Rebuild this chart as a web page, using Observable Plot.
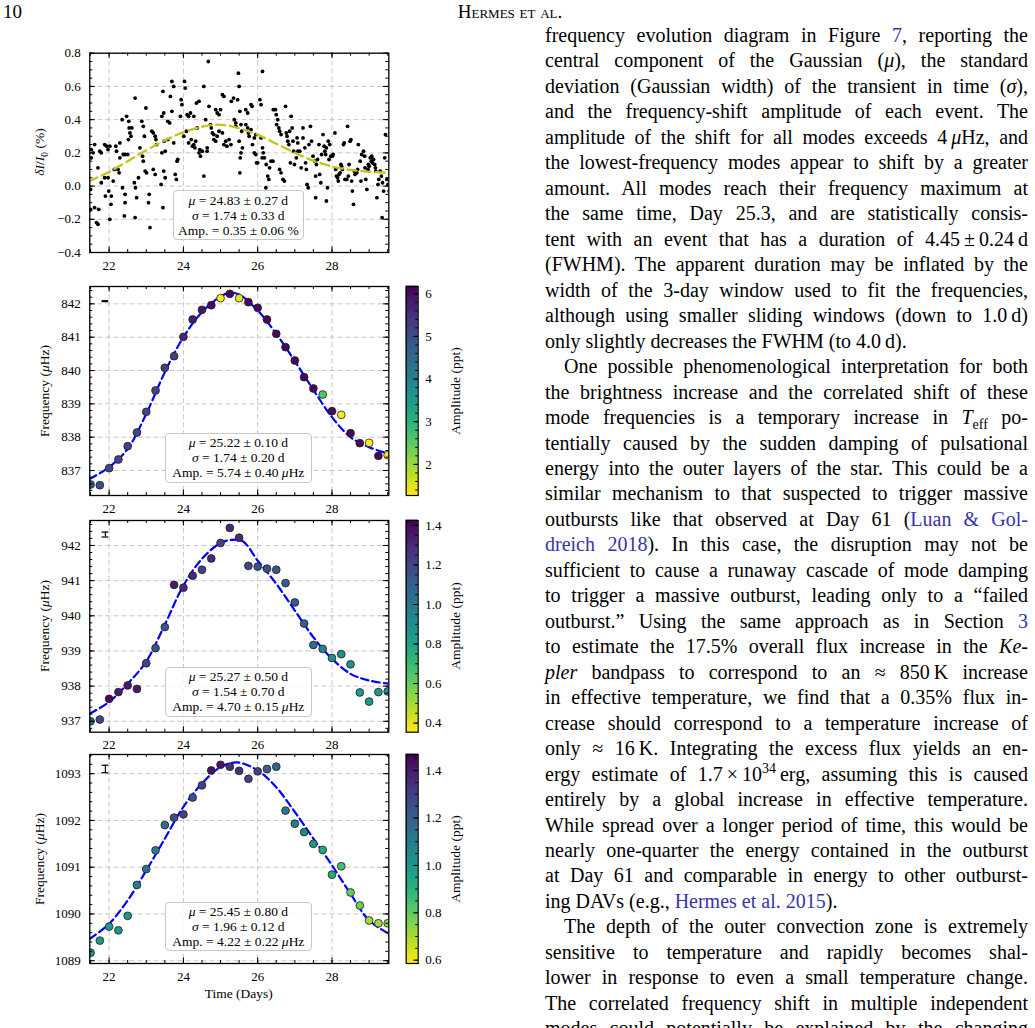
<!DOCTYPE html>
<html><head><meta charset="utf-8">
<script src="https://cdn.jsdelivr.net/npm/d3@7"></script>
<script src="https://cdn.jsdelivr.net/npm/@observablehq/plot@0.6"></script>
<style>
html,body{margin:0;padding:0;background:#fff;}
#page{position:relative;width:1035px;height:1028px;overflow:hidden;background:#fff;font-family:"Liberation Serif","Times New Roman",serif;color:#000;}
.abs{position:absolute;}
.box{position:absolute;border:1px solid #c8c8c8;border-radius:4px;background:rgba(255,255,255,0.8);font-size:13.5px;line-height:14.8px;text-align:center;box-sizing:border-box;white-space:nowrap;}
.rot{position:absolute;font-size:13.5px;white-space:nowrap;transform:translate(-50%,-50%) rotate(-90deg);}
#text{position:absolute;left:545px;top:23px;width:483px;font-size:20px;line-height:25.47px;}
#text div{text-align:justify;text-align-last:justify;}
#text div.end{text-align-last:left;}
#text div.ind{text-indent:19px;}
.ref{color:#3535a8;}
sub,sup{line-height:0;font-size:0.7em;}
</style></head>
<body><div id="page"></div>
<script>
// ---------------- DATA ----------------
// Top panel: relative flux (percent) vs time (days)
const fluxPoints = [
[21.52,0.22],[21.52,0.17],[21.61,0.25],[21.57,0.20],[21.50,-0.02],[21.50,-0.14],[21.61,-0.13],[21.72,-0.14],[21.66,-0.22],[21.70,-0.23],[21.70,0.11],[21.75,0.21],[21.79,0.20],[21.88,0.25],[21.93,0.24],[21.97,0.22],[22.02,0.24],[21.79,0.02],[21.90,-0.06],[21.99,-0.03],[22.06,-0.06],[22.05,-0.11],[22.02,-0.20],[21.88,0.05],[21.97,0.05],[22.11,0.03],[22.14,0.10],[22.20,0.21],[22.18,0.24],[22.29,0.26],[22.24,0.10],[22.27,0.08],[22.29,0.17],[22.35,0.40],[22.38,0.19],[22.43,0.19],[22.47,0.42],[22.50,0.19],[22.36,-0.01],[22.43,-0.05],[22.43,-0.10],[22.41,-0.18],[22.53,0.39],[22.54,0.35],[22.61,0.35],[22.56,0.32],[22.52,0.28],[22.59,0.30],[22.68,0.02],[22.71,-0.01],[22.74,-0.07],[22.79,0.05],[22.70,-0.19],[22.70,0.53],[22.83,0.23],[22.88,0.39],[22.92,0.36],[22.95,0.30],[22.90,0.18],[22.92,0.15],[22.99,0.47],[22.97,0.09],[23.01,0.08],[23.08,-0.05],[23.06,-0.10],[23.10,-0.25],[23.15,0.33],[23.19,0.32],[23.24,0.30],[23.26,0.28],[23.19,0.10],[23.24,0.07],[23.28,0.25],[23.40,0.01],
[23.45,0.57],[23.47,0.44],[23.42,0.42],[23.48,0.27],[23.42,0.20],[23.51,0.21],[23.58,0.39],[23.63,0.38],[23.58,0.28],[23.65,0.54],[23.69,0.63],[23.74,0.60],[23.69,0.45],[23.74,0.26],[23.78,0.07],[23.81,0.04],[23.83,0.15],[23.85,0.16],[23.47,0.09],[23.51,0.05],[23.45,-0.13],[23.92,0.42],[23.94,0.52],[23.96,0.49],[24.01,0.30],[24.03,0.63],[24.05,0.59],[24.08,0.33],[24.10,0.43],[24.14,0.42],[24.19,0.44],[24.14,0.26],[24.21,0.28],[24.24,0.24],[24.28,0.25],[24.31,0.23],[24.33,0.27],[24.28,0.42],[24.35,0.50],[24.42,0.51],[24.37,0.35],[24.42,0.20],[24.46,0.18],[24.44,0.22],[24.51,0.21],[24.55,0.06],[24.55,0.60],[24.60,0.40],[24.64,0.23],[24.64,0.21],[24.67,0.75],[24.69,0.48],[24.73,0.37],[24.75,0.35],[24.78,0.32],[24.82,0.31],[24.82,0.28],[24.87,0.27],[24.91,0.30],[24.87,0.46],[24.91,0.44],[24.96,0.43],[25.00,0.46],[24.96,0.33],[25.05,0.55],[25.09,0.54],[25.05,0.32],[25.09,0.25],[25.14,0.27],[25.17,0.24],[25.23,0.28],[25.28,0.25],[25.29,0.51],[25.35,0.53],[25.37,0.40],[25.41,0.38],[25.41,0.36],[25.53,0.17],
[25.48,0.68],[25.50,0.60],[25.46,0.52],[25.52,0.45],[25.55,0.37],[25.57,0.33],[25.50,0.27],[25.59,0.23],[25.55,0.20],[25.52,0.08],[25.68,0.46],[25.73,0.44],[25.68,0.37],[25.73,0.35],[25.75,0.32],[25.77,0.30],[25.82,0.49],[25.85,0.48],[25.82,0.34],[25.86,0.25],[25.91,0.29],[25.91,0.20],[25.95,0.19],[25.97,0.14],[25.95,0.31],[26.00,0.14],[26.06,0.52],[26.09,0.49],[26.13,0.69],[26.09,0.29],[26.13,0.23],[26.15,0.20],[26.12,0.17],[26.18,0.17],[26.23,0.13],[26.27,0.06],[26.30,0.04],[26.32,0.11],[26.36,0.15],[26.41,0.15],[26.42,0.46],[26.48,0.46],[26.50,0.43],[26.54,0.40],[26.51,0.37],[26.57,0.35],[26.59,0.33],[26.63,0.31],[26.59,0.10],[26.63,0.08],[26.68,0.04],[26.72,0.03],[26.75,0.48],[26.77,0.32],[26.79,0.30],[26.81,0.27],[26.84,0.25],[26.86,0.33],[26.88,0.14],[26.90,0.42],[26.93,0.35],[26.95,0.27],[26.97,0.21],[26.99,0.13],[27.04,0.17],[27.06,0.29],[27.08,0.26],[27.08,0.21],[27.13,0.21],[27.17,0.11],[27.22,0.29],[27.22,0.35],[27.27,0.23],[27.29,0.14],[27.31,0.10],[27.33,0.01],[27.36,-0.01],[27.38,0.25],[27.42,0.36],[27.45,0.27],[27.56,-0.07],[26.22,-0.01],[27.85,-0.09],
[27.49,0.18],[27.54,0.15],[27.56,0.06],[27.58,0.13],[27.61,0.16],[27.65,0.25],[27.67,0.07],[27.70,0.02],[27.72,0.19],[27.76,0.31],[27.79,0.24],[27.81,0.21],[27.83,0.19],[27.85,0.23],[27.88,-0.01],[27.90,0.27],[27.92,0.16],[27.94,0.25],[27.97,0.18],[28.01,0.18],[28.03,0.19],[28.08,0.32],[28.10,0.10],[28.12,0.06],[28.15,0.05],[28.17,0.03],[28.19,0.07],[28.22,0.08],[28.24,0.13],[28.26,0.12],[28.28,0.10],[28.31,0.25],[28.33,0.26],[28.35,0.04],[28.40,0.04],[28.42,0.36],[28.44,0.06],[28.46,0.13],[28.49,0.27],[28.51,0.28],[28.53,0.03],[28.55,-0.03],[28.58,-0.11],[28.60,0.09],[28.62,0.07],[28.67,0.08],[28.69,0.10],[28.71,0.25],[28.76,0.15],[28.78,0.03],[28.80,0.19],[28.85,0.21],[28.88,0.18],[28.89,0.11],[28.91,0.04],[28.94,-0.02],[28.97,0.10],[28.98,0.13],[29.00,0.12],[29.03,0.17],[29.06,0.15],[29.07,0.18],[29.09,0.14],[29.12,0.16],[29.15,0.13],[29.17,0.11],[29.18,0.09],[29.21,-0.07],[29.24,0.01],[29.26,0.04],[29.30,0.09],[29.33,0.06],[29.35,-0.19],[29.36,0.02],[29.39,-0.03],[29.42,0.17],[29.44,0.31],[29.48,0.04],[29.51,0.01],[29.54,-0.03]
];
const fluxFitDays = [21.46,22.0,22.5,23.0,23.5,24.0,24.5,24.9,25.3,25.75,26.0,26.5,27.0,27.5,28.0,28.5,29.0,29.53];
const fluxFitVals = [0.03,0.085,0.15,0.215,0.275,0.325,0.357,0.37,0.36,0.33,0.31,0.255,0.2,0.152,0.118,0.097,0.086,0.08];

// Mode panels: time of each window center (days)
const modeDays = [21.5,21.75,22.0,22.25,22.5,22.75,23.0,23.25,23.5,23.75,24.0,24.25,24.5,24.75,25.0,25.25,25.5,25.75,26.0,26.25,26.5,26.75,27.0,27.25,27.5,27.75,28.0,28.25,28.5,28.75,29.0,29.25,29.5];

const freq842 = [836.58,836.56,837.07,837.33,837.73,838.14,838.76,839.40,840.08,840.43,841.01,841.53,841.82,841.96,842.17,842.30,842.17,842.05,841.88,841.53,841.10,840.70,840.30,839.80,839.46,839.28,838.78,838.67,838.12,837.82,837.83,837.44,837.46];
const amp842 = [4.9,5.0,5.1,5.1,5.2,5.1,5.2,5.2,5.3,5.3,5.7,5.8,5.9,6.05,1.3,6.05,1.4,6.05,6.05,6.05,6.05,6.05,6.05,6.05,6.05,2.6,6.05,1.3,6.05,6.05,1.3,6.05,1.3];
const fit842Days = [21.48,22.0,22.5,23.0,23.5,24.0,24.5,25.0,25.25,25.5,26.0,26.5,27.0,27.5,28.0,28.5,29.0,29.53];
const fit842Freq = [836.75,837.1,837.65,838.7,839.95,841.0,841.75,842.22,842.33,842.28,841.8,841.1,840.28,839.42,838.6,838.0,837.7,837.5];

const freq942 = [937.00,937.05,937.64,937.83,938.02,937.92,938.65,939.08,939.68,940.88,940.80,941.14,941.31,941.63,942.07,942.50,942.22,941.42,941.40,941.34,941.31,940.93,940.38,939.78,939.17,939.06,938.80,938.91,938.62,937.82,937.56,937.83,937.85];
const amp942 = [1.05,1.2,1.4,1.35,1.35,1.35,1.22,1.15,1.15,1.35,1.3,1.3,1.22,1.3,1.22,1.3,1.3,1.2,1.15,1.15,1.15,1.12,1.12,1.1,1.05,0.95,0.9,0.9,0.9,0.85,0.85,0.87,0.87];
const fit942Days = [21.48,22.0,22.5,23.0,23.5,24.0,24.5,25.0,25.3,25.6,26.0,26.5,27.0,27.5,28.0,28.5,29.0,29.53];
const fit942Freq = [937.22,937.55,938.07,938.7,939.75,940.86,941.62,942.07,942.16,942.12,941.57,940.91,940.15,939.39,938.78,938.35,938.16,938.07];

const freq1093 = [1089.17,1089.43,1089.73,1089.65,1089.96,1090.62,1090.96,1091.36,1091.90,1092.06,1092.13,1092.49,1092.75,1093.07,1093.19,1093.15,1093.06,1092.89,1093.05,1093.10,1093.15,1092.21,1091.93,1091.75,1091.50,1091.37,1090.84,1091.02,1090.46,1090.18,1089.86,1089.80,1089.80];
const amp1093 = [1.0,1.0,1.0,1.0,1.0,1.1,1.15,1.1,1.15,1.25,1.3,1.25,1.3,1.42,1.42,1.35,1.35,1.3,1.3,1.2,1.2,1.12,1.1,1.08,1.0,0.95,0.93,0.85,0.8,0.78,0.72,0.72,0.74];
const fit1093Days = [21.48,22.0,22.5,23.0,23.5,24.0,24.5,25.0,25.45,26.0,26.5,27.0,27.5,28.0,28.5,29.0,29.53];
const fit1093Freq = [1089.47,1089.79,1090.29,1090.93,1091.61,1092.29,1092.79,1093.14,1093.24,1093.07,1092.71,1092.18,1091.61,1091.04,1090.43,1089.86,1089.58];

// typical error bars (day, low, high)
const err842 = [{day:21.9, lo:842.065, hi:842.095}];
const err942 = [{day:21.9, lo:942.24, hi:942.38}];
const err1093 = [{day:21.9, lo:1093.02, hi:1093.18}];

// tick values
const xMajor = [22,24,26,28];

// ---------------- LAYOUT HELPERS ----------------
const page = document.getElementById("page");
const FONT = "Liberation Serif, Times New Roman, serif";
const ML = 89.3, MR = 11.7, W = 400;
const X_DOMAIN = [21.48, 29.53];
const xMinor = d3.range(43, 60).map(i => i / 2);

function place(node, left, top) {
  const d = document.createElement("div");
  d.className = "abs"; d.style.left = left + "px"; d.style.top = top + "px";
  d.appendChild(node); page.appendChild(d);
}
function steps(a, b, s) { const n = Math.round((b - a) / s); return d3.range(n + 1).map(i => +(a + i * s).toFixed(4)); }

function panel({top, height, mt, mb, yDomain, yMajor, yMinor, yFormat, color, marks}) {
  const iw = W - ML - MR, ih = height - mt - mb;
  const maj = 5.5, mnr = 3;
  const gridStyle = {stroke: "#b0b0b0", strokeOpacity: 1, strokeWidth: 0.7, strokeDasharray: "5,3"};
  const svg = Plot.plot({
    width: W, height, marginLeft: ML, marginRight: MR, marginTop: mt, marginBottom: mb,
    x: {domain: X_DOMAIN}, y: {domain: yDomain}, color,
    style: {background: "transparent", fontFamily: FONT, fontSize: "13px", color: "#000", overflow: "visible"},
    marks: [
      Plot.gridX(xMajor, gridStyle),
      Plot.gridY(yMajor, gridStyle),
      ...marks,
      Plot.tickX(xMajor, {x: d => d, insetTop: ih - maj}),
      Plot.tickX(xMajor, {x: d => d, insetBottom: ih - maj}),
      Plot.tickX(xMinor, {x: d => d, insetTop: ih - mnr}),
      Plot.tickX(xMinor, {x: d => d, insetBottom: ih - mnr}),
      Plot.tickY(yMajor, {y: d => d, insetRight: iw - maj}),
      Plot.tickY(yMajor, {y: d => d, insetLeft: iw - maj}),
      Plot.tickY(yMinor, {y: d => d, insetRight: iw - mnr}),
      Plot.tickY(yMinor, {y: d => d, insetLeft: iw - mnr}),
      Plot.frame({stroke: "#000", strokeWidth: 1.3}),
      Plot.axisX(xMajor, {tickSize: 0, tickPadding: 8, tickFormat: d => String(d), label: null}),
      Plot.axisY(yMajor, {tickSize: 0, tickPadding: 9, tickFormat: yFormat, label: null})
    ]
  });
  place(svg, 0, top);
}

function colorbar({top, height, mt, mb, lo, hi, major, minor, fmt}) {
  const n = 200, bw = 12;
  const bands = d3.range(n).map(i => ({y1: lo + (hi - lo) * i / n, y2: lo + (hi - lo) * (i + 1) / n, v: lo + (hi - lo) * (i + 0.5) / n}));
  const svg = Plot.plot({
    width: 60, height, marginLeft: 10.7, marginRight: 60 - 10.7 - bw, marginTop: mt, marginBottom: mb,
    y: {domain: [lo, hi]},
    color: {type: "linear", scheme: "viridis", reverse: true, domain: [lo, hi]},
    style: {background: "transparent", fontFamily: FONT, fontSize: "13px", color: "#000", overflow: "visible"},
    marks: [
      Plot.rect(bands, {y1: "y1", y2: "y2", fill: "v", insetTop: -0.4, insetBottom: -0.4}),
      Plot.tickY(major, {y: d => d, insetLeft: bw - 4.5}),
      Plot.tickY(minor, {y: d => d, insetLeft: bw - 2.5}),
      Plot.frame({stroke: "#000", strokeWidth: 1.2}),
      Plot.axisY(major, {anchor: "right", tickSize: 0, tickPadding: 7, tickFormat: fmt, label: null})
    ]
  });
  place(svg, 395, top);
}

function modeMarks(days, freqs, amps, fitDays, fitFreqs, err) {
  const pts = days.map((d, i) => ({day: d, f: freqs[i], a: amps[i]}));
  const fit = fitDays.map((d, i) => ({day: d, f: fitFreqs[i]}));
  const cap = 0.09;
  return [
    Plot.line(fit, {x: "day", y: "f", stroke: "#0000ff", strokeWidth: 2.2, strokeDasharray: "7.5,4", curve: "catmull-rom", clip: true}),
    Plot.dot(pts, {x: "day", y: "f", fill: "a", r: 3.9, stroke: "#1e1e1e", strokeWidth: 0.8, clip: true}),
    Plot.ruleX(err, {x: "day", y1: "lo", y2: "hi", stroke: "#000", strokeWidth: 1.2}),
    Plot.ruleY(err, {y: "lo", x1: d => d.day - cap, x2: d => d.day + cap, stroke: "#000", strokeWidth: 1.2}),
    Plot.ruleY(err, {y: "hi", x1: d => d.day - cap, x2: d => d.day + cap, stroke: "#000", strokeWidth: 1.2})
  ];
}

function box(left, top, w, h, padTop, lines) {
  const d = document.createElement("div");
  d.className = "box";
  Object.assign(d.style, {left: left + "px", top: top + "px", width: w + "px", height: h + "px", paddingTop: padTop + "px"});
  d.innerHTML = lines.join("<br>");
  page.appendChild(d);
}
function rotLabel(x, y, html) {
  const d = document.createElement("div");
  d.className = "rot"; d.style.left = x + "px"; d.style.top = y + "px"; d.innerHTML = html;
  page.appendChild(d);
}
function label(x, y, html, size, extra) {
  const d = document.createElement("div");
  d.className = "abs"; d.style.left = x + "px"; d.style.top = y + "px";
  d.style.fontSize = size + "px"; d.style.whiteSpace = "nowrap"; d.innerHTML = html;
  if (extra) Object.assign(d.style, extra);
  page.appendChild(d);
}

const fmt1 = d => d.toFixed(1).replace("-", "\u2212");

// ---------------- PANEL 1 ----------------
panel({
  top: 40, height: 240, mt: 12.7, mb: 28,
  yDomain: [-0.4, 0.8], yMajor: steps(-0.4, 0.8, 0.2), yMinor: steps(-0.4, 0.8, 0.05), yFormat: fmt1,
  marks: [
    Plot.dot(fluxPoints, {x: d => d[0], y: d => d[1], r: 1.9, fill: "#000", clip: true}),
    Plot.line(fluxFitDays.map((d, i) => ({day: d, v: fluxFitVals[i]})), {x: "day", y: "v", stroke: "#c3c31a", strokeWidth: 2.3, strokeDasharray: "9,5", curve: "catmull-rom", clip: true})
  ]
});
rotLabel(40, 152, "<i>δI</i>/<i>I</i><sub style='font-size:0.7em'>0</sub> (%)");
box(172.7, 190, 131.3, 50, 3.2, ["<i>μ</i> = 24.83 ± 0.27 d", "<i>σ</i> = 1.74 ± 0.33 d", "Amp. = 0.35 ± 0.06 %"]);

// ---------------- PANEL 2 ----------------
const c2 = {type: "linear", scheme: "viridis", reverse: true, domain: [1.27, 6.17]};
panel({
  top: 278, height: 240, mt: 8, mb: 23, color: c2,
  yDomain: [836.25, 842.52], yMajor: [837, 838, 839, 840, 841, 842], yMinor: steps(836.4, 842.4, 0.2), yFormat: d => String(d),
  marks: modeMarks(modeDays, freq842, amp842, fit842Days, fit842Freq, err842)
});
colorbar({top: 278, height: 240, mt: 8, mb: 23, lo: 1.27, hi: 6.17, major: [2, 3, 4, 5, 6], minor: steps(1.4, 6.0, 0.2), fmt: d => String(d)});
rotLabel(45, 390.5, "Frequency (<i>μ</i>Hz)");
rotLabel(456, 390.5, "Amplitude (ppt)");
box(165, 432.7, 146.7, 50.6, 2.8, ["<i>μ</i> = 25.22 ± 0.10 d", "<i>σ</i> = 1.74 ± 0.20 d", "Amp. = 5.74 ± 0.40 <i>μ</i>Hz"]);

// ---------------- PANEL 3 ----------------
const c3 = {type: "linear", scheme: "viridis", reverse: true, domain: [0.354, 1.425]};
panel({
  top: 512, height: 240, mt: 8, mb: 20.3, color: c3,
  yDomain: [936.69, 942.71], yMajor: [937, 938, 939, 940, 941, 942], yMinor: steps(936.8, 942.6, 0.2), yFormat: d => String(d),
  marks: modeMarks(modeDays, freq942, amp942, fit942Days, fit942Freq, err942)
});
colorbar({top: 512, height: 240, mt: 8, mb: 20.3, lo: 0.354, hi: 1.425, major: steps(0.4, 1.4, 0.2), minor: steps(0.4, 1.4, 0.05), fmt: fmt1});
rotLabel(45, 626, "Frequency (<i>μ</i>Hz)");
rotLabel(456, 626, "Amplitude (ppt)");
box(165, 666.7, 146.7, 50.6, 2.8, ["<i>μ</i> = 25.27 ± 0.50 d", "<i>σ</i> = 1.54 ± 0.70 d", "Amp. = 4.70 ± 0.15 <i>μ</i>Hz"]);

// ---------------- PANEL 4 ----------------
const c4 = {type: "linear", scheme: "viridis", reverse: true, domain: [0.586, 1.468]};
panel({
  top: 746, height: 240, mt: 8, mb: 23, color: c4,
  yDomain: [1088.94, 1093.41], yMajor: [1089, 1090, 1091, 1092, 1093], yMinor: steps(1089.0, 1093.4, 0.2), yFormat: d => String(d),
  marks: modeMarks(modeDays, freq1093, amp1093, fit1093Days, fit1093Freq, err1093)
});
colorbar({top: 746, height: 240, mt: 8, mb: 23, lo: 0.586, hi: 1.468, major: steps(0.6, 1.4, 0.2), minor: steps(0.6, 1.45, 0.05), fmt: fmt1});
rotLabel(40, 858.5, "Frequency (<i>μ</i>Hz)");
rotLabel(456, 858.5, "Amplitude (ppt)");
box(165, 901.7, 146.7, 49.6, 2.6, ["<i>μ</i> = 25.45 ± 0.80 d", "<i>σ</i> = 1.96 ± 0.12 d", "Amp. = 4.22 ± 0.22 <i>μ</i>Hz"]);
label(238.8, 986, "Time (Days)", 13.5, {transform: "translateX(-50%)"});

// ---------------- PAGE HEADER ----------------
label(3, 1, "10", 19);
label(510, 1, "Hermes et al.", 19, {transform: "translateX(-50%)", fontVariant: "small-caps"});

// ---------------- BODY TEXT ----------------
const textLines = [
 ["", "frequency evolution diagram in Figure <span class='ref'>7</span>, reporting the"],
 ["", "central component of the Gaussian (<i>μ</i>), the standard"],
 ["", "deviation (Gaussian width) of the transient in time (<i>σ</i>),"],
 ["", "and the frequency-shift amplitude of each event. The"],
 ["", "amplitude of the shift for all modes exceeds 4\u2009<i>μ</i>Hz, and"],
 ["", "the lowest-frequency modes appear to shift by a greater"],
 ["", "amount. All modes reach their frequency maximum at"],
 ["", "the same time, Day 25.3, and are statistically consis-"],
 ["", "tent with an event that has a duration of 4.45\u2009±\u20090.24\u2009d"],
 ["", "(FWHM). The apparent duration may be inflated by the"],
 ["", "width of the 3-day window used to fit the frequencies,"],
 ["", "although using smaller sliding windows (down to 1.0\u2009d)"],
 ["end", "only slightly decreases the FWHM (to 4.0\u2009d)."],
 ["ind", "One possible phenomenological interpretation for both"],
 ["", "the brightness increase and the correlated shift of these"],
 ["", "mode frequencies is a temporary increase in <i>T</i><sub>eff</sub> po-"],
 ["", "tentially caused by the sudden damping of pulsational"],
 ["", "energy into the outer layers of the star. This could be a"],
 ["", "similar mechanism to that suspected to trigger massive"],
 ["", "outbursts like that observed at Day 61 (<span class='ref'>Luan &amp; Gol-</span>"],
 ["", "<span class='ref'>dreich 2018</span>). In this case, the disruption may not be"],
 ["", "sufficient to cause a runaway cascade of mode damping"],
 ["", "to trigger a massive outburst, leading only to a “failed"],
 ["", "outburst.” Using the same approach as in Section <span class='ref'>3</span>"],
 ["", "to estimate the 17.5% overall flux increase in the <i>Ke-</i>"],
 ["", "<i>pler</i> bandpass to correspond to an ≈ 850\u2009K increase"],
 ["", "in effective temperature, we find that a 0.35% flux in-"],
 ["", "crease should correspond to a temperature increase of"],
 ["", "only ≈ 16\u2009K. Integrating the excess flux yields an en-"],
 ["", "ergy estimate of 1.7\u2009×\u200910<sup>34</sup>\u2009erg, assuming this is caused"],
 ["", "entirely by a global increase in effective temperature."],
 ["", "While spread over a longer period of time, this would be"],
 ["", "nearly one-quarter the energy contained in the outburst"],
 ["", "at Day 61 and comparable in energy to other outburst-"],
 ["end", "ing DAVs (e.g., <span class='ref'>Hermes et al. 2015</span>)."],
 ["ind", "The depth of the outer convection zone is extremely"],
 ["", "sensitive to temperature and rapidly becomes shal-"],
 ["", "lower in response to even a small temperature change."],
 ["", "The correlated frequency shift in multiple independent"],
 ["", "modes could potentially be explained by the changing"]
];
const textDiv = document.createElement("div");
textDiv.id = "text";
page.appendChild(textDiv);
for (const [cls, html] of textLines) {
  const d = document.createElement("div");
  if (cls) d.className = cls;
  d.innerHTML = html;
  textDiv.appendChild(d);
  let fs = 20;
  while (d.offsetHeight > 30 && fs > 14) { fs -= 0.25; d.style.fontSize = fs + "px"; }
}
</script>
</body></html>
